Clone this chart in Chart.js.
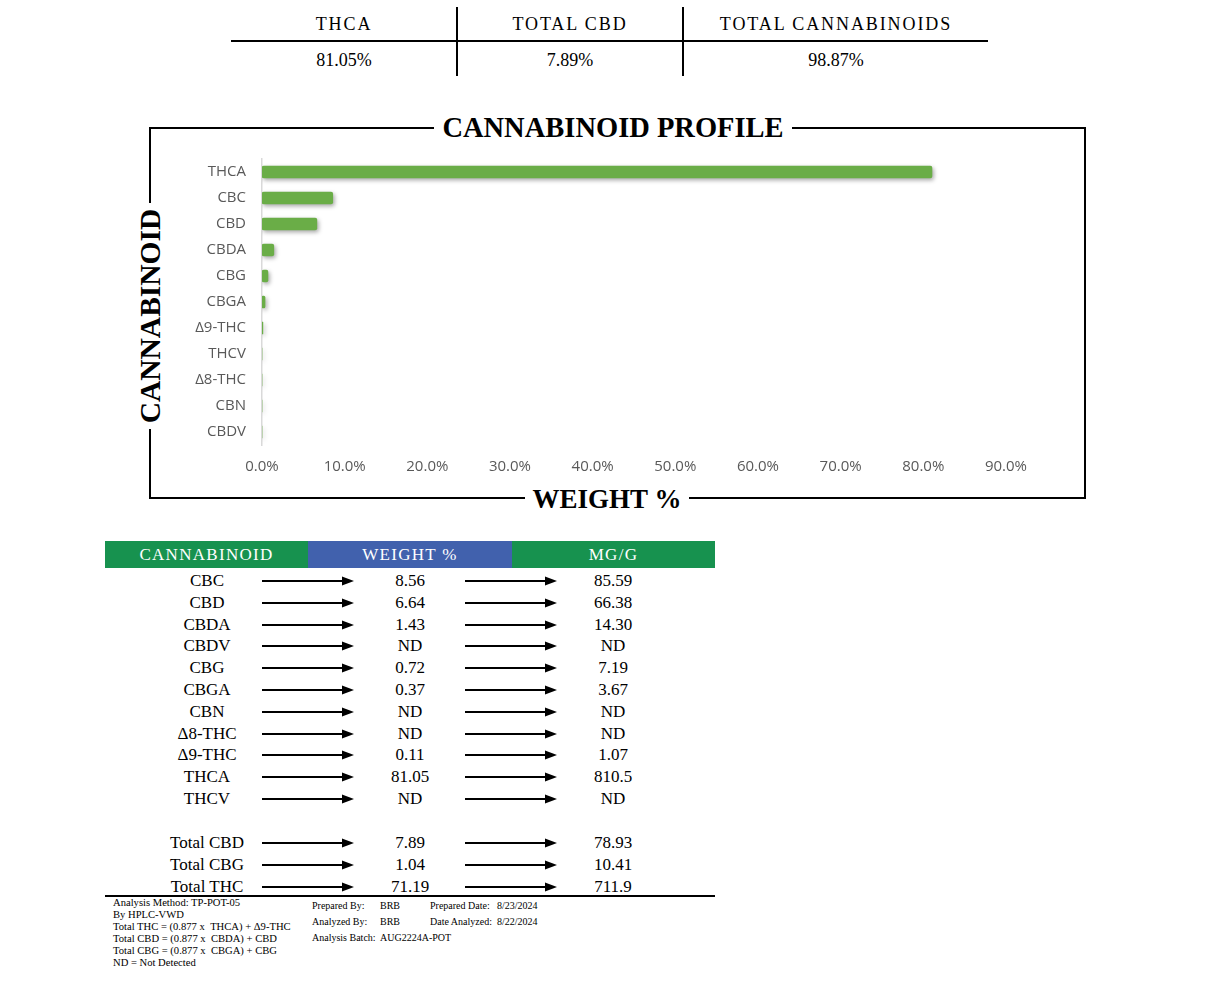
<!DOCTYPE html>
<html>
<head>
<meta charset="utf-8">
<script src="https://cdn.jsdelivr.net/npm/chart.js@4/dist/chart.umd.min.js"></script>
<style>
  html, body { margin:0; padding:0; background:#fff; }
  #page { position:relative; width:1213px; height:981px; overflow:hidden; font-family:"Liberation Serif","DejaVu Serif",serif; color:#000; }
  .abs { position:absolute; }
  .c { text-align:center; white-space:nowrap; }
  .hd { font-size:18px; letter-spacing:1.9px; line-height:24px; }
  .vl { font-size:18px; line-height:24px; }
  .frameTitle { font-weight:bold; font-size:28.5px; line-height:30px; }
  .frameTitle span { background:#fff; padding:0 8px; }
  .th { color:#fff; font-size:17px; letter-spacing:1.3px; line-height:27px; text-align:center; }
  .row { font-size:17px; line-height:20px; }
  .foot { font-size:10.6px; line-height:12px; white-space:nowrap; }
  .prep { font-size:10px; line-height:12px; white-space:nowrap; }
</style>
</head>
<body>
<div id="page">
  <!-- top summary table -->
  <div class="abs" style="left:231px;top:40px;width:757px;height:2px;background:#000"></div>
  <div class="abs" style="left:456px;top:7px;width:2px;height:69px;background:#000"></div>
  <div class="abs" style="left:682px;top:7px;width:2px;height:69px;background:#000"></div>
  <div id="topTable"></div>

  <!-- chart frame -->
  <div class="abs" style="left:149px;top:127px;width:937px;height:372px;border:2px solid #000;box-sizing:border-box"></div>
  <div class="abs c frameTitle" style="left:363px;top:113px;width:500px"><span>CANNABINOID PROFILE</span></div>
  <div class="abs c frameTitle" style="left:357px;top:484px;width:500px;font-size:27px"><span>WEIGHT %</span></div>
  <div class="abs c frameTitle" style="left:0px;top:301px;width:300px;font-size:29.5px;transform:rotate(-90deg);transform-origin:150px 15px"><span style="padding:0 6px">CANNABINOID</span></div>

  <div class="abs" style="left:160px;top:134px;width:880px;height:356px">
    <canvas id="chart" width="880" height="356"></canvas>
  </div>

  <!-- bottom table -->
  <div class="abs th" style="left:105px;top:541px;width:203px;height:27px;background:#17924f">CANNABINOID</div>
  <div class="abs th" style="left:308px;top:541px;width:204px;height:27px;background:#4161ad">WEIGHT %</div>
  <div class="abs th" style="left:512px;top:541px;width:203px;height:27px;background:#17924f">MG/G</div>
  <div id="rows"></div>
  <div class="abs" style="left:105px;top:895px;width:610px;height:2px;background:#000"></div>

  <div class="abs foot" style="left:113px;top:897px">
    Analysis Method: TP-POT-05<br>By HPLC-VWD<br>Total THC = (0.877 x &nbsp;THCA) + Δ9-THC<br>Total CBD = (0.877 x &nbsp;CBDA) + CBD<br>Total CBG = (0.877 x &nbsp;CBGA) + CBG<br>ND = Not Detected
  </div>
  <div class="abs prep" style="left:312px;top:900px">Prepared By:</div>
  <div class="abs prep" style="left:380px;top:900px">BRB</div>
  <div class="abs prep" style="left:430px;top:900px">Prepared Date:</div>
  <div class="abs prep" style="left:497px;top:900px">8/23/2024</div>
  <div class="abs prep" style="left:312px;top:916px">Analyzed By:</div>
  <div class="abs prep" style="left:380px;top:916px">BRB</div>
  <div class="abs prep" style="left:430px;top:916px">Date Analyzed:</div>
  <div class="abs prep" style="left:497px;top:916px">8/22/2024</div>
  <div class="abs prep" style="left:312px;top:932px">Analysis Batch:</div>
  <div class="abs prep" style="left:380px;top:932px">AUG2224A-POT</div>
</div>

<script>
// ---- summary ----
const summaryLabels = ["THCA", "TOTAL CBD", "TOTAL CANNABINOIDS"];
const summaryValues = ["81.05%", "7.89%", "98.87%"];

// ---- chart data ----
const categories = ["THCA", "CBC", "CBD", "CBDA", "CBG", "CBGA", "Δ9-THC", "THCV", "Δ8-THC", "CBN", "CBDV"];
const weightPct  = [81.05, 8.56, 6.64, 1.43, 0.72, 0.37, 0.11, 0, 0, 0, 0];
const xTickMax = 90;
const xTickStep = 10;

// ---- table data ----
const tableNames  = ["CBC", "CBD", "CBDA", "CBDV", "CBG", "CBGA", "CBN", "Δ8-THC", "Δ9-THC", "THCA", "THCV"];
const tableWeight = ["8.56", "6.64", "1.43", "ND", "0.72", "0.37", "ND", "ND", "0.11", "81.05", "ND"];
const tableMg     = ["85.59", "66.38", "14.30", "ND", "7.19", "3.67", "ND", "ND", "1.07", "810.5", "ND"];
const totalNames  = ["Total CBD", "Total CBG", "Total THC"];
const totalWeight = ["7.89", "1.04", "71.19"];
const totalMg     = ["78.93", "10.41", "711.9"];

// summary table
(function(){
  const centers = [344, 570, 836];
  const el = document.getElementById('topTable');
  let h = '';
  summaryLabels.forEach((t,i)=>{
    h += `<div class="abs c hd" style="left:${centers[i]-150}px;top:12px;width:300px">${t}</div>`;
    h += `<div class="abs c vl" style="left:${centers[i]-150}px;top:48px;width:300px">${summaryValues[i]}</div>`;
  });
  el.innerHTML = h;
})();

// rows
(function(){
  const el = document.getElementById('rows');
  function arrow(x, y){
    return `<svg class="abs" style="left:${x}px;top:${y-6}px" width="94" height="12"><line x1="0" y1="6" x2="82" y2="6" stroke="#000" stroke-width="2.2"/><polygon points="80,1.5 92,6 80,10.5" fill="#000"/></svg>`;
  }
  function row(y, n, w, m){
    let h = '';
    h += `<div class="abs c row" style="left:107px;top:${y-10}px;width:200px">${n}</div>`;
    h += arrow(262, y);
    h += `<div class="abs c row" style="left:330px;top:${y-10}px;width:160px">${w}</div>`;
    h += arrow(465, y);
    h += `<div class="abs c row" style="left:533px;top:${y-10}px;width:160px">${m}</div>`;
    return h;
  }
  let h = '';
  tableNames.forEach((n,i)=>{ h += row(581 + i*21.8, n, tableWeight[i], tableMg[i]); });
  totalNames.forEach((n,i)=>{ h += row(843 + i*22, n, totalWeight[i], totalMg[i]); });
  el.innerHTML = h;
})();

// chart
const shadowPlugin = {
  id: 'barShadow',
  beforeDatasetsDraw(chart){
    const ctx = chart.ctx;
    ctx.save();
    ctx.shadowColor = 'rgba(0,0,0,0.35)';
    ctx.shadowBlur = 4;
    ctx.shadowOffsetX = 1.5;
    ctx.shadowOffsetY = 2;
  },
  afterDatasetsDraw(chart){ chart.ctx.restore(); }
};

new Chart(document.getElementById('chart'), {
  type: 'bar',
  data: {
    labels: categories,
    datasets: [{
      data: weightPct,
      backgroundColor: '#6aad47',
      borderWidth: 0,
      borderRadius: 2,
      borderSkipped: false,
      barThickness: 12
    }]
  },
  options: {
    indexAxis: 'y',
    responsive: false,
    animation: false,
    events: [],
    layout: { padding: { top: 8, right: 31, bottom: 0, left: 0 } },
    plugins: { legend: { display: false }, tooltip: { enabled: false }, title: { display: false } },
    scales: {
      x: {
        min: 0, max: xTickMax,
        grid: { display: false, drawTicks: false },
        border: { display: false },
        afterFit(s){ s.height = 45; },
        ticks: {
          stepSize: xTickStep,
          padding: 13,
          color: '#595959',
          font: { family: '"Open Sans", "Noto Sans", sans-serif', size: 15 },
          callback: v => Number(v).toFixed(1) + '%'
        }
      },
      y: {
        grid: { display: false, drawTicks: false },
        border: { display: true, color: '#d9d9d9', width: 1.5 },
        afterFit(s){ s.width = 102; },
        ticks: {
          padding: 16,
          color: '#595959',
          font: { family: '"Open Sans", "Noto Sans", sans-serif', size: 15 }
        }
      }
    }
  },
  plugins: [shadowPlugin]
});
</script>
</body>
</html>
